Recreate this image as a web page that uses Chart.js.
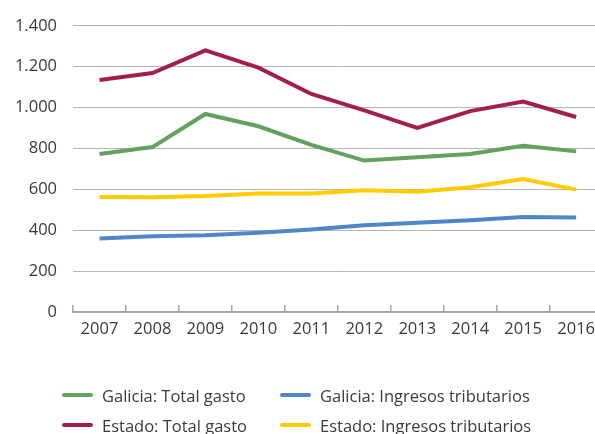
<!DOCTYPE html>
<html>
<head>
<meta charset="utf-8">
<script src="https://cdn.jsdelivr.net/npm/chart.js@4.4.1/dist/chart.umd.min.js"></script>
<style>
  html, body { margin: 0; padding: 0; background: #fff; overflow: hidden; }
  body { width: 595px; height: 434px; position: relative; }
  #wrap { position: absolute; left: 0; top: 0; width: 609px; height: 350px; }
  #legend { position: absolute; left: 0; top: 0; width: 595px; height: 434px; pointer-events: none;
            font-family: "Open Sans", sans-serif; font-size: 16.5px; color: #3a3a3a; }
  .item { position: absolute; display: flex; align-items: center; white-space: nowrap; }
  .item span.mark { display: inline-block; width: 31px; height: 4px; border-radius: 2px; margin-right: 9px; }
</style>
</head>
<body>
<div id="wrap"><canvas id="chart"></canvas></div>
<div id="legend"></div>
<script>
const years = ['2007', '2008', '2009', '2010', '2011', '2012', '2013', '2014', '2015', '2016'];

const galiciaGasto = [773, 807, 969, 909, 818, 741, 757, 773, 814, 786];
const estadoGasto = [1135, 1169, 1280, 1196, 1067, 987, 901, 983, 1030, 954];
const galiciaIngresos = [360, 371, 376, 388, 404, 425, 437, 449, 465, 462];
const estadoIngresos = [563, 562, 568, 580, 580, 596, 589, 610, 651, 599];

const FONT = { family: '"Open Sans", sans-serif', size: 16.5 };

function line(label, data, color) {
  return {
    label, data,
    borderColor: color,
    backgroundColor: color,
    borderWidth: 4,
    pointRadius: 0,
    tension: 0,
    fill: false
  };
}

const datasets = [
  line('Galicia: Total gasto', galiciaGasto, '#62a15f'),
  line('Estado: Total gasto', estadoGasto, '#a21f4a'),
  line('Galicia: Ingresos tributarios', galiciaIngresos, '#4f86c6'),
  line('Estado: Ingresos tributarios', estadoIngresos, '#fecc00')
];

const chart = new Chart(document.getElementById('chart'), {
  type: 'line',
  data: { labels: years, datasets },
  options: {
    responsive: true,
    maintainAspectRatio: false,
    animation: false,
    layout: { padding: { top: 21, left: 0, right: 0, bottom: 0 } },
    plugins: { legend: { display: false }, tooltip: { enabled: false } },
    scales: {
      x: {
        offset: true,
        grid: {
          offset: true,
          drawOnChartArea: false,
          drawTicks: true,
          tickLength: -7,
          color: '#a6a6a6',
          lineWidth: 1.5
        },
        border: { display: true, color: '#a6a6a6', width: 1.5 },
        ticks: { font: FONT, color: '#3a3a3a', padding: 14, maxRotation: 0, autoSkip: false },
        afterFit: s => { s.height = 38; }
      },
      y: {
        min: 0,
        max: 1400,
        grid: { color: '#b5b5b5', lineWidth: 1, drawTicks: false },
        border: { display: false },
        ticks: {
          stepSize: 200,
          font: FONT,
          color: '#3a3a3a',
          padding: 16,
          callback: v => v.toLocaleString('de-DE')
        },
        afterFit: s => { s.width = 73; }
      }
    }
  }
});

// legend laid out in two columns below the plot
const legend = document.getElementById('legend');
const spots = [[62, 395], [62, 425], [280, 395], [280, 425]];
datasets.forEach((ds, i) => {
  const el = document.createElement('div');
  el.className = 'item';
  el.style.left = spots[i][0] + 'px';
  el.style.top = (spots[i][1] - 12) + 'px';
  el.style.height = '24px';
  el.innerHTML = '<span class="mark" style="background:' + ds.borderColor + '"></span>' + ds.label;
  legend.appendChild(el);
});
</script>
</body>
</html>
